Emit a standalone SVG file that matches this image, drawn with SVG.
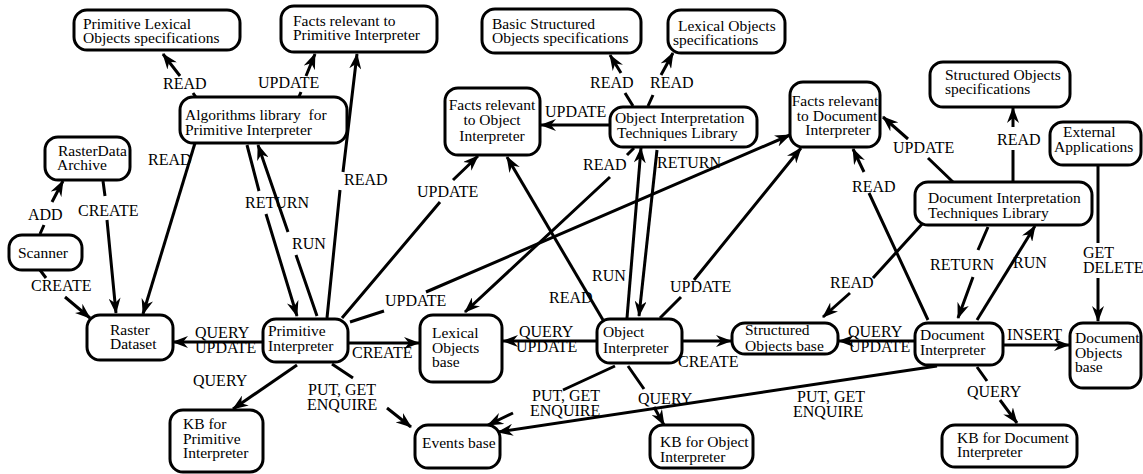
<svg xmlns="http://www.w3.org/2000/svg" width="1143" height="474" viewBox="0 0 1143 474">
<defs>
<marker id="ah" markerUnits="userSpaceOnUse" markerWidth="16" markerHeight="12" viewBox="0 0 16 12" refX="15" refY="6" orient="auto">
<path d="M0,0 L16,6 L0,12 L5,6 Z" fill="#000"/>
</marker>
<style>
.n rect{fill:#fff;stroke:#000;stroke-width:3}
text{font-family:"Liberation Serif","Times New Roman",serif;font-size:16px;fill:#000}
.n text{font-size:15.5px}
.c path{fill:none;stroke:#000;stroke-width:3;marker-end:url(#ah)}
.m{text-anchor:middle}
</style>
</defs>
<rect width="1143" height="474" fill="#fff"/>
<g id="connectors" class="c">
<path d="M198,100 L193,93 M180,76 L163,54"/>
<path d="M298,99 L301,92 M306,76 L315,54"/>
<path d="M327,318 L340,190 M343,172 L357,54"/>
<path d="M247,145 L259,191 M266,214 L297,316"/>
<path d="M317,316 L296,255 M288,232 L258,145"/>
<path d="M195,143 L143,314"/>
<path d="M40,234 L44,225 M52,202 L63,181"/>
<path d="M103,181 L105,196 M107,220 L116,313"/>
<path d="M40,270 L46,278 M65,297 L90,318"/>
<path d="M263,342 L173,342"/>
<path d="M297,365 L233,409"/>
<path d="M348,343 L419,343"/>
<path d="M332,364 L353,378 M387,408 L411,427"/>
<path d="M342,318 L440,202 M453,180 L478,156"/>
<path d="M350,322 L384,311 M426,292 L790,135"/>
<path d="M634,148 L627,155 M610,177 L465,312"/>
<path d="M603,320 L507,157"/>
<path d="M627,318 L641,148"/>
<path d="M657,150 L639,316"/>
<path d="M610,125 L541,125"/>
<path d="M633,106 L625,93 M621,73 L610,55"/>
<path d="M648,106 L653,95 M661,75 L673,53"/>
<path d="M597,341 L503,341"/>
<path d="M682,341 L731,341"/>
<path d="M628,366 L644,389 M654,407 L664,425"/>
<path d="M615,366 L563,390 M513,413 L488,425"/>
<path d="M937,366 L498,432"/>
<path d="M660,318 L681,297 M694,280 L801,148"/>
<path d="M915,341 L839,341"/>
<path d="M1003,345 L1069,345"/>
<path d="M977,367 L987,381 M1000,400 L1017,423"/>
<path d="M928,320 L869,193 M864,172 L853,149"/>
<path d="M953,182 L928,158 M908,139 L883,117"/>
<path d="M1013,182 L1013,150 M1013,127 L1013,108"/>
<path d="M923,223 L873,278 M850,293 L823,317"/>
<path d="M988,227 L978,250 M973,277 L958,318"/>
<path d="M977,320 L1035,226"/>
<path d="M1098,166 L1098,243 M1098,278 L1098,321"/>
</g>
<g id="labels">
<text x="163" y="89">READ</text>
<text x="258" y="88">UPDATE</text>
<text x="344" y="185">READ</text>
<text x="245" y="208">RETURN</text>
<text x="292" y="249">RUN</text>
<text x="148" y="165">READ</text>
<text x="28" y="220">ADD</text>
<text x="78" y="216">CREATE</text>
<text x="31" y="291">CREATE</text>
<text x="195" y="338">QUERY</text>
<text x="195" y="353">UPDATE</text>
<text x="193" y="386">QUERY</text>
<text x="352" y="358">CREATE</text>
<text x="308" y="395">PUT, GET</text>
<text x="307" y="410">ENQUIRE</text>
<text x="417" y="197">UPDATE</text>
<text x="385" y="306">UPDATE</text>
<text x="583" y="170">READ</text>
<text x="549" y="303">READ</text>
<text x="592" y="281">RUN</text>
<text x="657" y="168">RETURN</text>
<text x="545" y="117">UPDATE</text>
<text x="590" y="88">READ</text>
<text x="650" y="88">READ</text>
<text x="519" y="337">QUERY</text>
<text x="516" y="352">UPDATE</text>
<text x="678" y="367">CREATE</text>
<text x="638" y="404">QUERY</text>
<text x="532" y="401">PUT, GET</text>
<text x="530" y="416">ENQUIRE</text>
<text x="797" y="402">PUT, GET</text>
<text x="793" y="417">ENQUIRE</text>
<text x="670" y="292">UPDATE</text>
<text x="848" y="337">QUERY</text>
<text x="849" y="352">UPDATE</text>
<text x="1007" y="340">INSERT</text>
<text x="967" y="397">QUERY</text>
<text x="852" y="192">READ</text>
<text x="893" y="153">UPDATE</text>
<text x="997" y="145">READ</text>
<text x="830" y="288">READ</text>
<text x="930" y="270">RETURN</text>
<text x="1013" y="268">RUN</text>
<text x="1083" y="258">GET</text>
<text x="1083" y="273">DELETE</text>
</g>
<g id="n_pleos" class="n"><rect x="74" y="10" width="166" height="40" rx="13"/><text x="83" y="29">Primitive Lexical</text><text x="83" y="43">Objects specifications</text></g>
<g id="n_frpi" class="n"><rect x="281" y="6" width="156" height="46" rx="13"/><text x="293" y="26">Facts relevant to</text><text x="293" y="40">Primitive Interpreter</text></g>
<g id="n_bsos" class="n"><rect x="482" y="9" width="159" height="44" rx="13"/><text x="492" y="29">Basic Structured</text><text x="492" y="43">Objects specifications</text></g>
<g id="n_los" class="n"><rect x="668" y="10" width="117" height="43" rx="13"/><text x="678" y="31">Lexical Objects</text><text x="673" y="45">specifications</text></g>
<g id="n_alg" class="n"><rect x="180" y="97" width="167" height="46" rx="13"/><text x="185" y="120">Algorithms library&#160; for</text><text x="185" y="135">Primitive Interpreter</text></g>
<g id="n_froi" class="n"><rect x="445" y="88" width="95" height="67" rx="13"/><text class="m" x="492" y="110">Facts relevant</text><text class="m" x="492" y="125">to Object</text><text class="m" x="492" y="141">Interpreter</text></g>
<g id="n_oitl" class="n"><rect x="610" y="107" width="147" height="40" rx="13"/><text x="615" y="123">Object Interpretation</text><text x="617" y="138">Techniques Library</text></g>
<g id="n_frdi" class="n"><rect x="790" y="82" width="90" height="65" rx="13"/><text class="m" x="835" y="106">Facts relevant</text><text class="m" x="837" y="121">to Document</text><text class="m" x="838" y="135">Interpreter</text></g>
<g id="n_sos" class="n"><rect x="930" y="62" width="140" height="45" rx="13"/><text x="945" y="80">Structured Objects</text><text x="945" y="94">specifications</text></g>
<g id="n_ext" class="n"><rect x="1050" y="122" width="91" height="43" rx="13"/><text x="1063" y="137">External</text><text x="1054" y="152">Applications</text></g>
<g id="n_rda" class="n"><rect x="45" y="137" width="85" height="43" rx="13"/><text x="58" y="156">RasterData</text><text x="57" y="170">Archive</text></g>
<g id="n_scan" class="n"><rect x="9" y="235" width="73" height="35" rx="13"/><text x="18" y="258">Scanner</text></g>
<g id="n_rd" class="n"><rect x="87" y="315" width="86" height="45" rx="13"/><text x="110" y="335">Raster</text><text x="110" y="349">Dataset</text></g>
<g id="n_pi" class="n"><rect x="263" y="319" width="85" height="43" rx="13"/><text x="268" y="336">Primitive</text><text x="268" y="351">Interpreter</text></g>
<g id="n_lob" class="n"><rect x="420" y="315" width="82" height="67" rx="13"/><text x="432" y="338">Lexical</text><text x="432" y="353">Objects</text><text x="432" y="367">base</text></g>
<g id="n_eb" class="n"><rect x="415" y="425" width="85" height="43" rx="13"/><text x="422" y="448">Events base</text></g>
<g id="n_kbpi" class="n"><rect x="170" y="410" width="93" height="62" rx="13"/><text x="183" y="429">KB for</text><text x="183" y="444">Primitive</text><text x="183" y="458">Interpreter</text></g>
<g id="n_oi" class="n"><rect x="597" y="319" width="85" height="44" rx="13"/><text x="603" y="337">Object</text><text x="603" y="353">Interpreter</text></g>
<g id="n_sob" class="n"><rect x="732" y="323" width="106" height="31" rx="13"/><text x="745" y="335">Structured</text><text x="745" y="351">Objects base</text></g>
<g id="n_kboi" class="n"><rect x="650" y="425" width="103" height="43" rx="13"/><text x="660" y="447">KB for Object</text><text x="660" y="462">Interpreter</text></g>
<g id="n_di" class="n"><rect x="915" y="323" width="88" height="42" rx="13"/><text x="920" y="340">Document</text><text x="920" y="355">Interpreter</text></g>
<g id="n_dob" class="n"><rect x="1070" y="323" width="71" height="65" rx="13"/><text x="1075" y="343">Document</text><text x="1075" y="358">Objects</text><text x="1075" y="372">base</text></g>
<g id="n_kbdi" class="n"><rect x="942" y="425" width="135" height="42" rx="13"/><text x="957" y="443">KB for Document</text><text x="957" y="457">Interpreter</text></g>
<g id="n_dtl" class="n"><rect x="915" y="182" width="177" height="43" rx="13"/><text x="928" y="203">Document Interpretation</text><text x="928" y="218">Techniques Library</text></g>
</svg>
